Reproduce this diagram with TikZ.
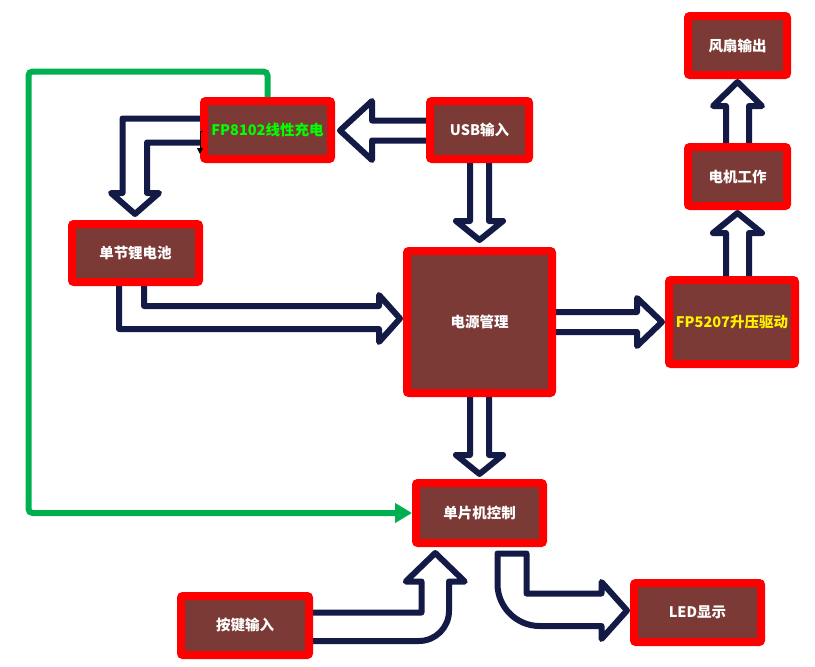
\documentclass[tikz,border=0pt]{standalone}
\usepackage{fontspec}
\setmainfont{Noto Sans CJK SC}
\usetikzlibrary{arrows.meta,backgrounds}
\definecolor{boxred}{RGB}{255,0,0}
\definecolor{boxfill}{RGB}{123,58,54}
\definecolor{navy}{RGB}{19,26,70}
\definecolor{wire}{RGB}{0,176,80}

\begin{document}
\begin{tikzpicture}[x=1pt,y=-1pt,
  blk/.style={draw=boxred,fill=boxfill,line width=8pt,rounded corners=2pt,text=white,inner sep=0pt,font=\bfseries\fontsize{14.5}{17}\selectfont},
  hollow/.style={draw=navy,fill=white,line width=6pt,line join=round}]
  \useasboundingbox (0,0) rectangle (815,667);
  \node[blk,minimum width=127pt,minimum height=58pt,text=green] (fp8102) at (267.5,130) {FP8102线性充电};
  \node[blk,minimum width=99pt,minimum height=58pt] (usb) at (479.5,130) {USB输入};
  \node[blk,minimum width=127pt,minimum height=58pt] (cell) at (135.5,253) {单节锂电池};
  \node[blk,minimum width=145pt,minimum height=142pt] (power) at (479.5,322) {电源管理};
  \node[blk,minimum width=126pt,minimum height=84pt,text=yellow] (boost) at (732,322) {FP5207升压驱动};
  \node[blk,minimum width=99pt,minimum height=59pt] (motor) at (737.5,176.5) {电机工作};
  \node[blk,minimum width=99pt,minimum height=59pt] (fan) at (737.5,45.5) {风扇输出};
  \node[blk,minimum width=127pt,minimum height=60pt] (mcu) at (479.5,513) {单片机控制};
  \node[blk,minimum width=127pt,minimum height=59pt] (led) at (697.5,612.5) {LED显示};
  \node[blk,minimum width=128pt,minimum height=59pt] (key) at (245,625.5) {按键输入};
  \begin{scope}[on background layer]
    \draw[hollow] (usb.west) ++(4,-9.5) -- ++(-58,0) -- ++(0,-19.5) -- ++(-32,29.5) -- ++(32,29.5) -- ++(0,-19.5) -- ++(58,0) -- cycle;
    \draw[hollow] (usb.south) ++(-9.5,-4) -- ++(0,62) -- ++(-14,0) -- ++(23.5,19) -- ++(23.5,-19) -- ++(-14,0) -- ++(0,-62) -- cycle;
    \draw[hollow] (power.south) ++(-9.5,-4) -- ++(0,62) -- ++(-14,0) -- ++(23.5,19) -- ++(23.5,-19) -- ++(-14,0) -- ++(0,-62) -- cycle;
    \draw[hollow] (power.east) ++(-4,-10) -- ++(85,0) -- ++(0,-14) -- ++(25,24) -- ++(-25,24) -- ++(0,-14) -- ++(-85,0) -- cycle;
    \draw[hollow] (boost.north) ++(-6,4) -- ++(0,-47) -- ++(-13,0) -- ++(24.5,-20) -- ++(24.5,20) -- ++(-13,0) -- ++(0,47) -- cycle;
    \draw[hollow] (motor.north) ++(-11.5,4) -- ++(0,-41) -- ++(-13,0) -- ++(24.5,-24) -- ++(24.5,24) -- ++(-13,0) -- ++(0,41) -- cycle;
    \draw[hollow] (fp8102.west) ++(4,-11.5) -- ++(-81.5,0) -- ++(0,74.5) -- ++(-11.5,0) -- ++(24,21) -- ++(24,-21) -- ++(-12,0) -- ++(0,-50.5) -- ++(57,0) -- cycle;
    \draw[hollow] (cell.south) ++(-16.5,-4) -- ++(0,47) -- ++(260,0) -- ++(0,13) -- ++(21,-23.5) -- ++(-21,-23.5) -- ++(0,11) -- ++(-235,0) -- ++(0,-24) -- cycle;
    \draw[hollow] (key.east) ++(-4,-13) -- ++(112.5,0) -- ++(0,-31) -- ++(-15.75,0) -- ++(29.5,-28.5) -- ++(29.5,28.5) -- ++(-15.75,0) -- ++(0,29.5) .. controls +(0,16.5) and +(16.5,0) .. ++(-30,30) -- ++(-110,0) -- cycle;
    \draw[hollow] (mcu.south) ++(18,6.5) -- ++(29,0) -- ++(0,40) -- ++(75,0) -- ++(0,-11.5) -- ++(25.5,28.5) -- ++(-25.5,28.5) -- ++(0,-13) -- ++(-62,0) .. controls +(-23,0) and +(0,23) .. ++(-42,-42) -- cycle;
  \end{scope}
  \draw[wire,line width=6pt,rounded corners=4pt,-{Triangle[length=17pt,width=19pt]}] (fp8102.north) -- ++(0,-25.5) -- ++(-239,0) -- ++(0,441.5) -- (mcu.west);
  \draw[black,line width=1pt,-{Triangle[length=6pt,width=6pt]}] (fp8102.west) ++(3,1) -- ++(-3,0) -- ++(0,23);
\end{tikzpicture}
\end{document}
